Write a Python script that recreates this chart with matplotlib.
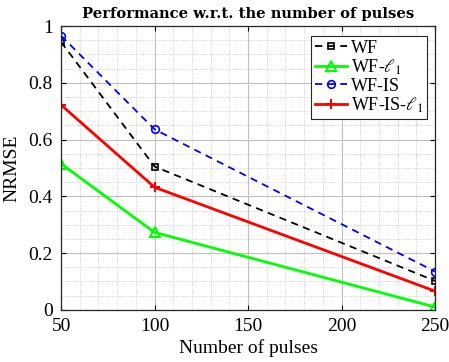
import matplotlib.pyplot as plt
import numpy as np
from matplotlib.ticker import MultipleLocator

plt.rcParams['font.family'] = ['Liberation Serif', 'DejaVu Serif']
plt.rcParams['mathtext.fontset'] = 'stix'

pulses = np.array([50, 100, 250])
wf = np.array([0.944, 0.505, 0.102])
wf_l1 = np.array([0.515, 0.273, 0.010])
wf_is = np.array([0.966, 0.636, 0.135])
wf_is_l1 = np.array([0.722, 0.432, 0.066])

fig = plt.figure(figsize=(4.49, 3.62), dpi=100)
ax = fig.add_axes([0.136, 0.144, 0.833, 0.784])

ax.plot(pulses, wf, 'k--s', lw=1.3, ms=5, mfc='none', mew=1.2, dashes=(4, 3), label='WF')
ax.plot(pulses, wf_l1, '-^', color=(0, 1, 0), lw=2, ms=7, mfc='none', mew=1.5, label=r'WF-$\ell_1$')
ax.plot(pulses, wf_is, '--o', color='b', lw=1.3, ms=5.5, mfc='none', mew=1.2, dashes=(4, 3), label='WF-IS')
ax.plot(pulses, wf_is_l1, '-+', color='r', lw=2, ms=7, mew=1.5, label=r'WF-IS-$\ell_1$')

ax.set_xlim(50, 250)
ax.set_ylim(0, 1)
ax.set_xticks([50, 100, 150, 200, 250])
ax.set_yticks([0, 0.2, 0.4, 0.6, 0.8, 1])
ax.set_yticklabels(['0', '0.2', '0.4', '0.6', '0.8', '1'])
ax.xaxis.set_minor_locator(MultipleLocator(10))
ax.yaxis.set_minor_locator(MultipleLocator(0.05))
ax.grid(which='major', color='#c0c0c0', lw=0.8)
ax.grid(which='minor', color='#c4c4c4', lw=0.6, ls=':')
ax.set_axisbelow(True)
ax.tick_params(which='both', direction='in', top=True, right=True, labelsize=14, pad=6)
ax.tick_params(which='minor', length=0)
for s in ax.spines.values():
    s.set_color('#262626')
    s.set_linewidth(0.9)

ax.set_xlabel('Number of pulses', fontsize=14, labelpad=3)
ax.set_ylabel('NRMSE', fontsize=14, labelpad=6)
ax.set_title('Performance w.r.t. the number of pulses', fontsize=10.6, fontweight='bold', pad=6,
             family='DejaVu Serif')

leg = ax.legend(loc='upper right', bbox_to_anchor=(0.978, 0.965), fontsize=13, fancybox=False,
                edgecolor='#262626', framealpha=1, handlelength=1.8, handletextpad=0.2,
                borderpad=0.2, labelspacing=0.05, borderaxespad=0)
leg.get_frame().set_linewidth(0.8)

fig.savefig('out.png', dpi=100)
